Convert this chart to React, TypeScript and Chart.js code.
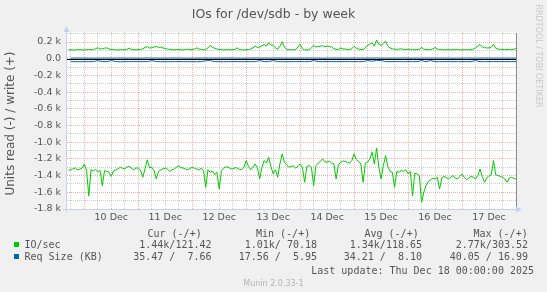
import React, { useEffect, useRef } from 'react';
import { Chart, registerables } from 'chart.js';

Chart.register(...registerables);

// hours relative to Dec 10 00:00 (IO/sec samples, hourly)
const ioHours = [
  -7, -6, -5, -4, -3, -2, -1, 0, 1, 2, 3, 4, 5, 6, 7, 8, 9, 10, 11, 12,
  13, 14, 15, 16, 17, 18, 19, 20, 21, 22, 23, 24, 25, 26, 27, 28, 29, 30, 31, 32,
  33, 34, 35, 36, 37, 38, 39, 40, 41, 42, 43, 44, 45, 46, 47, 48, 49, 50, 51, 52,
  53, 54, 55, 56, 57, 58, 59, 60, 61, 62, 63, 64, 65, 66, 67, 68, 69, 70, 71, 72,
  73, 74, 75, 76, 77, 78, 79, 80, 81, 82, 83, 84, 85, 86, 87, 88, 89, 90, 91, 92,
  93, 94, 95, 96, 97, 98, 99, 100, 101, 102, 103, 104, 105, 106, 107, 108, 109, 110, 111, 112,
  113, 114, 115, 116, 117, 118, 119, 120, 121, 122, 123, 124, 125, 126, 127, 128, 129, 130, 131, 132,
  133, 134, 135, 136, 137, 138, 139, 140, 141, 142, 143, 144, 145, 146, 147, 148, 149, 150, 151, 152,
  153, 154, 155, 156, 157, 158, 159, 160, 161, 162, 163, 164, 165, 166, 167, 168, 169, 170, 171, 172,
  173, 174, 175, 176, 177, 178, 179, 180, 181, 182, 183, 184, 185, 186, 187, 188, 189, 190, 191, 192,
];

// IO/sec write (+)
const ioWrite = [
  106, 108, 104, 105, 110, 108, 104, 106, 108, 110, 106, 112, 118, 132, 115, 120, 126, 130, 115, 112,
  108, 106, 104, 110, 108, 106, 114, 126, 110, 108, 105, 110, 112, 118, 135, 145, 128, 132, 140, 147,
  135, 140, 128, 124, 115, 112, 108, 106, 109, 110, 106, 106, 112, 115, 108, 108, 118, 130, 115, 112,
  106, 108, 130, 160, 135, 126, 115, 112, 108, 106, 108, 110, 106, 108, 112, 130, 112, 106, 105, 108,
  110, 115, 130, 150, 135, 140, 155, 170, 150, 190, 165, 160, 130, 115, 150, 205, 140, 112, 108, 106,
  108, 108, 140, 175, 120, 106, 104, 108, 130, 160, 140, 145, 150, 155, 145, 150, 148, 140, 120, 112,
  110, 128, 118, 115, 110, 108, 120, 150, 125, 115, 110, 112, 130, 160, 175, 190, 150, 225, 170, 160,
  180, 210, 150, 130, 118, 115, 112, 115, 118, 112, 110, 115, 112, 110, 108, 108, 115, 135, 115, 110,
  108, 108, 118, 135, 115, 112, 108, 106, 108, 110, 106, 108, 112, 110, 106, 106, 108, 110, 106, 108,
  115, 130, 150, 170, 140, 135, 128, 130, 140, 170, 125, 115, 112, 112, 108, 110, 112, 108, 115, 121,
];

// IO/sec read (-), magnitudes
const ioRead = [
  1335, 1332, 1318, 1308, 1330, 1324, 1312, 1262, 1335, 1645, 1330, 1342, 1325, 1352, 1338, 1520, 1340, 1350, 1362, 1410,
  1345, 1330, 1318, 1300, 1312, 1320, 1296, 1290, 1315, 1330, 1308, 1310, 1335, 1420, 1320, 1210, 1305, 1300, 1338, 1440,
  1350, 1330, 1318, 1310, 1325, 1350, 1330, 1320, 1300, 1282, 1305, 1310, 1322, 1330, 1315, 1300, 1312, 1320, 1335, 1310,
  1340, 1540, 1330, 1360, 1345, 1390, 1360, 1560, 1340, 1310, 1295, 1300, 1318, 1320, 1305, 1310, 1325, 1330, 1300, 1220,
  1290, 1330, 1300, 1260, 1310, 1440, 1300, 1220, 1250, 1180, 1290, 1380, 1330, 1420, 1260, 1140, 1240, 1270, 1300, 1290,
  1285, 1310, 1290, 1260, 1300, 1480, 1290, 1280, 1300, 1520, 1280, 1250, 1230, 1200, 1235, 1240, 1225, 1250, 1260, 1440,
  1270, 1240, 1225, 1230, 1245, 1250, 1220, 1140, 1210, 1230, 1260, 1480, 1250, 1240, 1200, 1120, 1260, 1070, 1300, 1440,
  1280, 1160, 1290, 1350, 1360, 1540, 1350, 1360, 1340, 1350, 1330, 1380, 1350, 1640, 1370, 1380, 1400, 1720, 1600, 1520,
  1470, 1450, 1430, 1440, 1420, 1560, 1430, 1410, 1425, 1440, 1420, 1400, 1430, 1440, 1410, 1380, 1420, 1450, 1430, 1410,
  1420, 1440, 1400, 1320, 1410, 1480, 1430, 1400, 1390, 1220, 1390, 1400, 1410, 1420, 1440, 1480, 1430, 1420, 1435, 1440,
];

// hours relative to Dec 10 00:00 (Req Size samples, every 2 h)
const reqHours = [
  -6, -4, -2, 0, 2, 4, 6, 8, 10, 12,
  14, 16, 18, 20, 22, 24, 26, 28, 30, 32,
  34, 36, 38, 40, 42, 44, 46, 48, 50, 52,
  54, 56, 58, 60, 62, 64, 66, 68, 70, 72,
  74, 76, 78, 80, 82, 84, 86, 88, 90, 92,
  94, 96, 98, 100, 102, 104, 106, 108, 110, 112,
  114, 116, 118, 120, 122, 124, 126, 128, 130, 132,
  134, 136, 138, 140, 142, 144, 146, 148, 150, 152,
  154, 156, 158, 160, 162, 164, 166, 168, 170, 172,
  174, 176, 178, 180, 182, 184, 186, 188, 190, 192,
];

// Req Size (KB) write (+)
const reqWrite = [
  8, 8, 9, 8, 8, 7, 8, 8, 9, 8,
  8, 9, 8, 8, 8, 7, 8, 9, 8, 8,
  8, 8, 8, 9, 8, 8, 7, 8, 8, 8,
  9, 8, 8, 8, 8, 9, 8, 8, 7, 8,
  8, 9, 8, 8, 8, 8, 9, 8, 8, 8,
  8, 8, 9, 8, 8, 8, 7, 8, 8, 9,
  8, 8, 8, 9, 8, 8, 8, 8, 9, 8,
  8, 7, 8, 8, 9, 8, 8, 8, 8, 8,
  9, 8, 8, 8, 8, 7, 8, 8, 9, 8,
  8, 8, 9, 8, 8, 8, 8, 7, 8, 8,
];

// Req Size (KB) read (-), magnitudes
const reqRead = [
  35, 35, 36, 35, 35, 34, 22, 35, 35, 22,
  35, 36, 35, 35, 34, 35, 35, 35, 22, 35,
  35, 36, 35, 35, 34, 35, 35, 36, 35, 35,
  24, 22, 35, 35, 36, 35, 35, 34, 35, 35,
  35, 35, 22, 35, 35, 22, 35, 35, 36, 35,
  35, 35, 35, 35, 22, 35, 35, 34, 35, 35,
  35, 34, 35, 35, 35, 35, 22, 30, 22, 22,
  35, 35, 34, 35, 35, 35, 35, 35, 22, 35,
  22, 35, 35, 35, 34, 35, 35, 35, 35, 35,
  22, 35, 35, 35, 34, 35, 35, 35, 35, 35,
];

const yTicks = [
  -1800, -1700, -1600, -1500, -1400, -1300, -1200, -1100, -1000, -900, -800,
  -700, -600, -500, -400, -300, -200, -100, 0, 100, 200, 300,
];
const xTicks = [
  -6, 0, 6, 12, 18, 24, 30, 36, 42, 48, 54, 60, 66, 72, 78, 84, 90, 96, 102,
  108, 114, 120, 126, 132, 138, 144, 150, 156, 162, 168, 174, 180, 186,
];
const dayLabels = ['10 Dec', '11 Dec', '12 Dec', '13 Dec', '14 Dec', '15 Dec', '16 Dec', '17 Dec'];

const titleText = 'IOs for /dev/sdb - by week';
const yTitle = 'Units read (-) / write (+)';
const legendHeaders = ['Cur (-/+)', 'Min (-/+)', 'Avg (-/+)', 'Max (-/+)'];
const seriesNames = ['IO/sec', 'Req Size (KB)'];
const ioStats = ['1.44k/121.42', '1.01k/ 70.18', '1.34k/118.65', '2.77k/303.52'];
const reqStats = ['35.47 /  7.66', '17.56 /  5.95', '34.21 /  8.10', '40.05 / 16.99'];
const lastUpdate = 'Last update: Thu Dec 18 00:00:00 2025';
const muninVersion = 'Munin 2.0.33-1';
const watermark = 'RRDTOOL / TOBI OETIKER';

const GREEN = '#00cc00';
const BLUE = '#0066b3';
const MGRID = 'rgba(222,79,79,0.45)';
const GRID = 'rgba(143,143,143,0.45)';
const AXIS = '#c9cff4';
const TEXT = '#555555';
const SANS = '"DejaVu Sans", sans-serif';
const MONO = '"DejaVu Sans Mono", monospace';

function txt(ctx: CanvasRenderingContext2D, s: string, x: number, y: number, font: string, color: string, align: CanvasTextAlign = 'left', baseline: CanvasTextBaseline = 'middle') {
  ctx.font = font;
  ctx.fillStyle = color;
  ctx.textAlign = align;
  ctx.textBaseline = baseline;
  ctx.fillText(s, x, y);
}

const muninPlugin = {
  id: 'munin',
  beforeDraw(chart: any) {
    const { ctx, chartArea: a } = chart;
    ctx.save();
    ctx.fillStyle = '#f0f0f0';
    ctx.fillRect(0, 0, chart.width, chart.height);
    ctx.fillStyle = '#ffffff';
    ctx.fillRect(a.left, a.top, a.right - a.left, a.bottom - a.top);
    ctx.restore();
  },
  beforeDatasetsDraw(chart: any) {
    const { ctx, chartArea: a } = chart;
    const y0 = Math.round(chart.scales.y.getPixelForValue(0)) + 0.5;
    ctx.save();
    ctx.strokeStyle = '#000000';
    ctx.lineWidth = 1;
    ctx.beginPath();
    ctx.moveTo(a.left, y0);
    ctx.lineTo(a.right, y0);
    ctx.stroke();
    ctx.restore();
  },
  afterDraw(chart: any) {
    const { ctx, chartArea: a } = chart;
    ctx.save();
    // right frame
    ctx.strokeStyle = '#8c8c8c';
    ctx.lineWidth = 1;
    ctx.beginPath();
    ctx.moveTo(a.right + 0.5, a.top + 1);
    ctx.lineTo(a.right + 0.5, a.bottom - 2);
    ctx.stroke();
    // axes
    ctx.strokeStyle = AXIS;
    ctx.fillStyle = AXIS;
    const lx = a.left - 0.5;
    const by = a.bottom + 0.5;
    ctx.beginPath();
    ctx.moveTo(lx, by + 3);
    ctx.lineTo(lx, a.top);
    ctx.moveTo(a.left - 4, by);
    ctx.lineTo(a.right, by);
    ctx.stroke();
    ctx.beginPath();
    ctx.moveTo(lx, a.top - 6);
    ctx.lineTo(lx - 3, a.top);
    ctx.lineTo(lx + 3, a.top);
    ctx.closePath();
    ctx.fill();
    ctx.beginPath();
    ctx.moveTo(a.right + 6, by);
    ctx.lineTo(a.right, by - 3);
    ctx.lineTo(a.right, by + 3);
    ctx.closePath();
    ctx.fill();

    // title
    txt(ctx, titleText, 273.5, 18, '12.5px ' + SANS, TEXT, 'center', 'alphabetic');
    // y title
    ctx.save();
    ctx.translate(11, 123.5);
    ctx.rotate(-Math.PI / 2);
    txt(ctx, yTitle, 0, 0, '12px ' + SANS, TEXT, 'center', 'middle');
    ctx.restore();
    // watermark
    ctx.save();
    ctx.translate(538.5, 56);
    ctx.rotate(Math.PI / 2);
    txt(ctx, watermark, 0, 0, '8px ' + SANS, '#c8c8c8', 'center', 'middle');
    ctx.restore();

    // legend
    const headerX = [147.5, 256, 364.5, 473.5];
    const cellEnd = [211.5, 317, 422, 528];
    legendHeaders.forEach((h, i) => txt(ctx, h, headerX[i], 234, '10px ' + MONO, TEXT));
    ctx.fillStyle = GREEN;
    ctx.fillRect(14, 242, 5, 5);
    ctx.fillStyle = BLUE;
    ctx.fillRect(14, 254, 5, 5);
    txt(ctx, seriesNames[0], 24.5, 245, '10px ' + MONO, TEXT);
    txt(ctx, seriesNames[1], 24.5, 257.2, '10px ' + MONO, TEXT);
    ioStats.forEach((s, i) => txt(ctx, s, cellEnd[i], 245, '10px ' + MONO, TEXT, 'right'));
    reqStats.forEach((s, i) => txt(ctx, s, cellEnd[i], 257.2, '10px ' + MONO, TEXT, 'right'));
    txt(ctx, lastUpdate, 534, 271.5, '10px ' + MONO, TEXT, 'right');
    txt(ctx, muninVersion, 273.5, 284, '8px ' + SANS, '#b4b4b4', 'center');
    ctx.restore();
  },
};

export default function App() {
  const ref = useRef<HTMLCanvasElement>(null);
  useEffect(() => {
    document.body.style.margin = '0';
    document.body.style.overflow = 'hidden';
    const mk = (xs: number[], vals: number[], sign: number) => vals.map((v, i) => ({ x: xs[i], y: sign * v }));
    const line = (label: string, data: any[], color: string) => ({
      label, data, borderColor: color, borderWidth: 1, pointRadius: 0, tension: 0, fill: false,
    });
    const chart = new Chart(ref.current as HTMLCanvasElement, {
      type: 'line',
      data: {
        datasets: [
          line('Req Size write', mk(reqHours, reqWrite, 1), BLUE),
          line('Req Size read', mk(reqHours, reqRead, -1), BLUE),
          line('IO/sec write', mk(ioHours, ioWrite, 1), GREEN),
          line('IO/sec read', mk(ioHours, ioRead, -1), GREEN),
        ],
      },
      options: {
        animation: false,
        responsive: false,
        devicePixelRatio: 1,
        events: [],
        layout: { padding: { top: 32, right: 31, bottom: 0, left: 0 } },
        plugins: { legend: { display: false }, tooltip: { enabled: false }, title: { display: false } },
        scales: {
          x: {
            type: 'linear',
            min: -7.7,
            max: 192,
            afterBuildTicks: (s: any) => { s.ticks = xTicks.map((v) => ({ value: v })); },
            afterFit: (s: any) => { s.height = 83; },
            grid: {
              color: (c: any) => (c.tick && c.tick.value % 24 === 0 ? MGRID : GRID),
              lineWidth: 1,
              drawTicks: false,
            },
            border: { display: false, dash: [1, 1] },
            ticks: {
              autoSkip: false,
              maxRotation: 0,
              padding: 3,
              color: TEXT,
              font: { family: SANS, size: 9.5 },
              callback: (v: any) => {
                const i = (Number(v) - 12) / 24;
                return Number.isInteger(i) && i >= 0 && i < dayLabels.length ? dayLabels[i] : '';
              },
            },
          },
          y: {
            type: 'linear',
            min: -1800,
            max: 320,
            afterBuildTicks: (s: any) => { s.ticks = yTicks.map((v) => ({ value: v })); },
            afterFit: (s: any) => { s.width = 67; },
            grid: {
              color: (c: any) => (c.tick && c.tick.value % 200 === 0 ? MGRID : GRID),
              lineWidth: 1,
              drawTicks: false,
            },
            border: { display: false, dash: [1, 1] },
            ticks: {
              autoSkip: false,
              padding: 6,
              color: TEXT,
              font: { family: SANS, size: 9.5 },
              callback: (v: any) => {
                const n = Number(v);
                if (n % 200 !== 0) return '';
                return n === 0 ? '0.0' : (n / 1000).toFixed(1) + ' k';
              },
            },
          },
        },
      },
      plugins: [muninPlugin],
    } as any);
    return () => chart.destroy();
  }, []);
  return (
    <div style={{ position: 'absolute', left: 0, top: 0, width: 547, height: 292 }}>
      <canvas ref={ref} width={547} height={292} style={{ display: 'block', width: 547, height: 292 }} />
    </div>
  );
}
